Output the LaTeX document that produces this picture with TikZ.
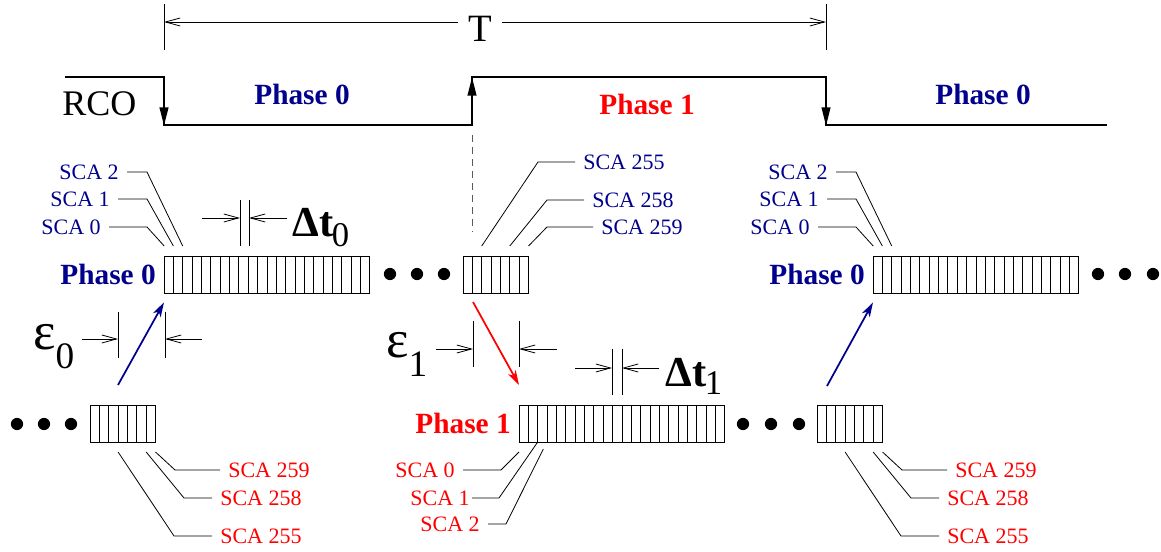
\documentclass[tikz,border=0pt]{standalone}
\usepackage{fontspec}
\setmainfont{Liberation Serif}
\usetikzlibrary{arrows.meta,calc,positioning}

\begin{document}
\begin{tikzpicture}[x=0.75pt, y=-0.75pt]
		% Definición de colores
		\definecolor{phaseblue}{RGB}{0, 0, 140} % Azul oscuro de las fases 0
		\definecolor{phasered}{RGB}{255, 0, 0}  % Rojo de la fase 1
		\def\cw{9.36} % Ancho de una celda SCA
		
		\tikzset{
			thinline/.style={line width=0.6pt},
			rco/.style={line width=1.4pt},
			edgearrow/.style={rco, -{Triangle[length=14pt, width=6.5pt]}},
			dimarrow/.style={thinline, -{Straight Barb[length=11pt, width=6pt]}},
			dimline/.style={thinline, {Straight Barb[length=11pt, width=6pt]}-{Straight Barb[length=11pt, width=6pt]}},
			phasearrow/.style={line width=1.3pt, -{Stealth[length=11pt, width=6.5pt, inset=3pt]}},
			cellrow/.style={draw, thinline, inner sep=0pt, outer sep=0pt, anchor=north west, minimum height=27.75pt},
			scalabel/.style={font=\fontsize{16.5}{18}\selectfont, inner xsep=6pt, inner ysep=0pt},
			phaselabel/.style={font=\fontsize{22}{24}\selectfont\bfseries, inner xsep=6pt},
			leader/.style={thinline}
		}
		\useasboundingbox (0,0) rectangle (1161,552);
		
		% --- Periodo T ---
		\draw[thinline] (164,4) -- (164,50) (826,4) -- (826,50);
		\draw[dimline] (164,22) -- (826,22);
		\node[fill=white, inner xsep=8pt, inner ysep=1pt, font=\fontsize{29}{30}\selectfont, anchor=base] (T) at (480,42) {T};
		
		% --- Señal RCO ---
		\node[anchor=base west, inner sep=0pt, font=\fontsize{27}{30}\selectfont] (rco) at (62,116) {RCO};
		\draw[rco] (65,77) -- (164,77) -- (164,125) -- (472,125) -- (472,77) -- (826,77) -- (826,125) -- (1107,125);
		\draw[edgearrow] (164,77) -- (164,126);
		\draw[edgearrow] (472,125) -- (472,77);
		\draw[edgearrow] (826,77) -- (826,126);
		\node[phaselabel, text=phaseblue, anchor=base] (w0a) at (302,105) {Phase 0};
		\node[phaselabel, text=phasered, anchor=base] (w1) at (647,115) {Phase 1};
		\node[phaselabel, text=phaseblue, anchor=base] (w0b) at (983,105) {Phase 0};
		\draw[black!65, thinline, dash pattern=on 5pt off 4pt] (472,135) -- (472,232);
		
		% --- Filas de celdas SCA ---
		\node[cellrow, minimum width=154.4pt] (ph0a) at (164,256) {};
		\node[cellrow, minimum width=49.1pt] (ph0b) at (463,256) {};
		\node[cellrow, minimum width=154.4pt] (ph0c) at (873,256) {};
		\node[cellrow, minimum width=49.1pt] (ph1a) at (90,405) {};
		\node[cellrow, minimum width=154.4pt] (ph1) at (519,405) {};
		\node[cellrow, minimum width=49.1pt] (ph1b) at (817,405) {};
		\foreach \b in {ph0a,ph0c,ph1}
			\foreach \i in {1,...,21}
				\draw[thinline] ($(\b.north west)+(\i*\cw,0)$) -- ($(\b.south west)+(\i*\cw,0)$);
		\foreach \b in {ph0b,ph1a,ph1b}
			\foreach \i in {1,...,6}
				\draw[thinline] ($(\b.north west)+(\i*\cw,0)$) -- ($(\b.south west)+(\i*\cw,0)$);
		
		% --- Etiquetas de fase junto a las filas ---
		\node[phaselabel, text=phaseblue, anchor=east] (lp0a) at (ph0a.west) {Phase 0};
		\node[phaselabel, text=phasered, anchor=east] (lp1) at (ph1.west) {Phase 1};
		\node[phaselabel, text=phaseblue, anchor=east] (lp0c) at (ph0c.west) {Phase 0};
		
		% --- Puntos suspensivos ---
		\foreach \x in {390,417,444} \fill (\x,274) circle (4.6pt);
		\foreach \x in {1098,1125,1153} \fill (\x,274) circle (4.6pt);
		\foreach \x in {17,44,71} \fill (\x,424) circle (4.6pt);
		\foreach \x in {743,771,799} \fill (\x,424) circle (4.6pt);
		
		% --- Etiquetas SCA (arriba) ---
		\node[scalabel, text=phaseblue, anchor=east] (a0) at (109,227) {SCA 0};
		\node[scalabel, text=phaseblue, anchor=east] (a1) at (118,199) {SCA 1};
		\node[scalabel, text=phaseblue, anchor=east] (a2) at (127,172) {SCA 2};
		\draw[leader] (a0.east) -- ++(38,0) -- ($(ph0a.north west)+(0.2,-10)$);
		\draw[leader] (a1.east) -- ++(29,0) -- ($(ph0a.north west)+(\cw,-10)$);
		\draw[leader] (a2.east) -- ++(20,0) -- ($(ph0a.north west)+(2*\cw,-10)$);
		
		\node[scalabel, text=phaseblue, anchor=west] (b255) at (575,162) {SCA 255};
		\node[scalabel, text=phaseblue, anchor=west] (b258) at (584,200) {SCA 258};
		\node[scalabel, text=phaseblue, anchor=west] (b259) at (593,227) {SCA 259};
		\draw[leader] (b255.west) -- ++(-37,0) -- ($(ph0b.north west)+(2*\cw,-10)$);
		\draw[leader] (b258.west) -- ++(-37,0) -- ($(ph0b.north west)+(5*\cw,-10)$);
		\draw[leader] (b259.west) -- ++(-46,0) -- ($(ph0b.north west)+(7*\cw,-10)$);
		
		\node[scalabel, text=phaseblue, anchor=east] (c0) at (818,227) {SCA 0};
		\node[scalabel, text=phaseblue, anchor=east] (c1) at (827,199) {SCA 1};
		\node[scalabel, text=phaseblue, anchor=east] (c2) at (836,172) {SCA 2};
		\draw[leader] (c0.east) -- ++(38,0) -- ($(ph0c.north west)+(0.2,-10)$);
		\draw[leader] (c1.east) -- ++(29,0) -- ($(ph0c.north west)+(\cw,-10)$);
		\draw[leader] (c2.east) -- ++(20,0) -- ($(ph0c.north west)+(2*\cw,-10)$);
		
		% --- Etiquetas SCA (abajo) ---
		\node[scalabel, text=phasered, anchor=west] (d259) at (220,470) {SCA 259};
		\node[scalabel, text=phasered, anchor=west] (d258) at (212,498) {SCA 258};
		\node[scalabel, text=phasered, anchor=west] (d255) at (212,536) {SCA 255};
		\draw[leader] (d259.west) -- ++(-45,0) -- ($(ph1a.south west)+(7*\cw,10)$);
		\draw[leader] (d258.west) -- ++(-28,0) -- ($(ph1a.south west)+(6*\cw,10)$);
		\draw[leader] (d255.west) -- ++(-38,0) -- ($(ph1a.south west)+(3*\cw,10)$);
		
		\node[scalabel, text=phasered, anchor=east] (e0) at (463,470) {SCA 0};
		\node[scalabel, text=phasered, anchor=east, inner xsep=1.5pt] (e1) at (472,498) {SCA 1};
		\node[scalabel, text=phasered, anchor=east] (e2) at (488,524) {SCA 2};
		\draw[leader] (e0.east) -- ++(38,0) -- ($(ph1.south west)+(0,10)$);
		\draw[leader] (e1.east) -- ++(27,0) -- ($(ph1.south west)+(2*\cw,0)$);
		\draw[leader] (e2.east) -- ++(18,0) -- ($(ph1.south west)+(2.6*\cw,7)$);
		
		\node[scalabel, text=phasered, anchor=west] (f259) at (947,470) {SCA 259};
		\node[scalabel, text=phasered, anchor=west] (f258) at (939,498) {SCA 258};
		\node[scalabel, text=phasered, anchor=west] (f255) at (939,536) {SCA 255};
		\draw[leader] (f259.west) -- ++(-45,0) -- ($(ph1b.south west)+(7*\cw,10)$);
		\draw[leader] (f258.west) -- ++(-28,0) -- ($(ph1b.south west)+(6*\cw,10)$);
		\draw[leader] (f255.west) -- ++(-38,0) -- ($(ph1b.south west)+(3*\cw,10)$);
		
		% --- Flechas de arranque de cada fase ---
		\coordinate (s0) at (118,385);
		\coordinate (s1) at (473,302);
		\coordinate (s2) at (827,386);
		\draw[phasearrow, phaseblue] (s0) -- ([yshift=-7pt]ph0a.south west);
		\draw[phasearrow, phasered] (s1) -- ([yshift=15pt]ph1.north west);
		\draw[phasearrow, phaseblue] (s2) -- ([yshift=-7pt]ph0c.south west);
		
		% --- Cotas epsilon y Delta t ---
		\draw[thinline] (118,312) -- (118,358) (165,312) -- (165,358);
		\draw[dimarrow] (82,339) -- (118,339);
		\draw[dimarrow] (202,339) -- (165,339);
		\node[anchor=base west, inner sep=0pt] (eps0) at (33,350) {\fontsize{40}{42}\selectfont ε\raisebox{-13.5pt}{\fontsize{28}{30}\selectfont 0}};
		
		\draw[thinline] (473,321) -- (473,367) (519,321) -- (519,367);
		\draw[dimarrow] (436,349) -- (473,349);
		\draw[dimarrow] (557,349) -- (519,349);
		\node[anchor=base west, inner sep=0pt] (eps1) at (386,358) {\fontsize{40}{42}\selectfont ε\raisebox{-14pt}{\fontsize{28}{30}\selectfont 1}};
		
		\draw[thinline] (240,200) -- (240,246) (249,200) -- (249,246);
		\draw[dimarrow] (202,218) -- (240,218);
		\draw[dimarrow] (287,218) -- (249,218);
		\node[anchor=base west, inner sep=0pt] (dt0) at (292,237) {\fontsize{32}{34}\selectfont\bfseries Δt\kern-1pt\raisebox{-7.5pt}{\fontsize{26}{28}\selectfont\mdseries 0}};
		
		\draw[thinline] (612,349) -- (612,395) (622,349) -- (622,395);
		\draw[dimarrow] (575,368) -- (612,368);
		\draw[dimarrow] (659,368) -- (622,368);
		\node[anchor=base west, inner sep=0pt] (dt1) at (665,387) {\fontsize{32}{34}\selectfont\bfseries Δt\kern-1pt\raisebox{-6pt}{\fontsize{26}{28}\selectfont\mdseries 1}};
		
	\end{tikzpicture}
\end{document}
